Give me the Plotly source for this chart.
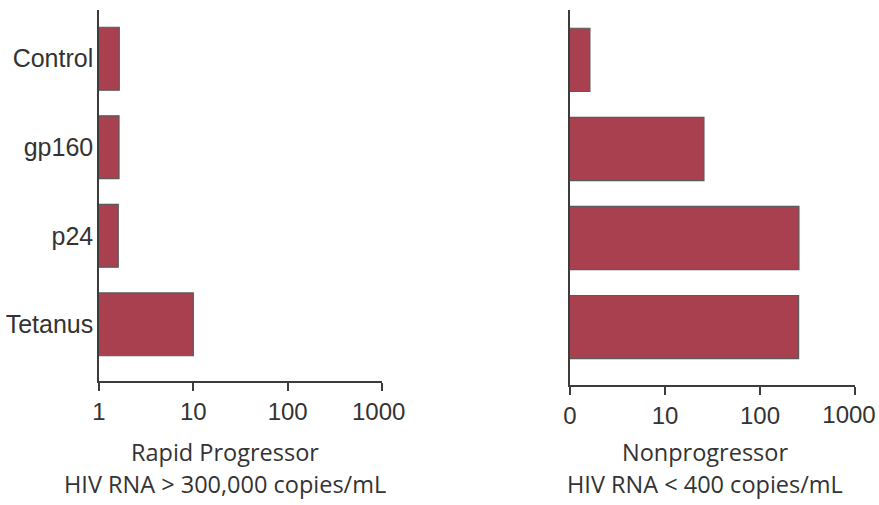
import plotly.graph_objects as go

# Antigens, top to bottom
antigens = ["Control", "gp160", "p24", "Tetanus"]

# Response values per group (log scale)
rapid_values = [1.64, 1.63, 1.6, 10.0]
nonprog_values = [1.62, 25.7, 257.0, 255.0]

# Axis ticks
tick_vals = [1, 10, 100, 1000]
rapid_tick_text = ["1", "10", "100", "1000\u00a0"]
nonprog_tick_text = ["0", "10", "100", ""]
nonprog_last_val = [1000]
nonprog_last_text = ["1000"]

# Group titles, one entry per line
rapid_title = ["Rapid Progressor", "HIV RNA > 300,000 copies/mL"]
nonprog_title = ["Nonprogressor", "HIV RNA < 400 copies/mL"]

W, H = 879, 505
BAR_FILL = "#a8404f"
BAR_EDGE = "#5a5a5a"
AXIS_COLOR = "#3c3c3c"
TEXT_COLOR = "#333333"
LABEL_FONT = "Liberation Sans, Arial, sans-serif"
TITLE_FONT = "Open Sans, Lato, sans-serif"

fig = go.Figure()

fig.add_trace(go.Bar(
    y=antigens, x=rapid_values, orientation="h",
    xaxis="x", yaxis="y", width=0.71,
    marker=dict(color=BAR_FILL, line=dict(color=BAR_EDGE, width=1.2)),
    showlegend=False,
))
fig.add_trace(go.Bar(
    y=antigens, x=nonprog_values, orientation="h",
    xaxis="x2", yaxis="y2", width=0.71,
    marker=dict(color=BAR_FILL, line=dict(color=BAR_EDGE, width=1.2)),
    showlegend=False,
))
# empty helper trace so the overlay axis carrying the last tick label renders
fig.add_trace(go.Scatter(
    x=nonprog_last_val, y=antigens[:1], xaxis="x3", yaxis="y2",
    mode="markers", marker=dict(opacity=0), hoverinfo="skip",
    showlegend=False,
))


def px_x(a, b):
    return [a / W, b / W]


def px_y(top, bottom):
    return [1 - bottom / H, 1 - top / H]


tick_font = dict(family=LABEL_FONT, size=24, color=TEXT_COLOR)
common_x = dict(
    type="log", range=[0, 3], tickvals=tick_vals,
    showline=True, linecolor=AXIS_COLOR, linewidth=1.5,
    ticks="outside", ticklen=8, tickwidth=1.5, tickcolor=AXIS_COLOR,
    showgrid=False, zeroline=False, automargin=False,
    tickfont=tick_font, fixedrange=True,
)
common_y = dict(
    type="category", showline=True, linecolor=AXIS_COLOR, linewidth=1.5,
    ticks="", showgrid=False, zeroline=False, automargin=False,
    fixedrange=True,
)

fig.update_layout(
    width=W, height=H,
    margin=dict(l=0, r=0, t=0, b=0),
    paper_bgcolor="white", plot_bgcolor="white",
    bargap=0.29,
    xaxis=dict(common_x, domain=px_x(99, 382), anchor="y",
               ticktext=rapid_tick_text, ticklabeloverflow="allow"),
    yaxis=dict(common_y, domain=px_y(10, 381), anchor="x",
               range=[3.64, -0.55],
               tickfont=dict(family=LABEL_FONT, size=25, color=TEXT_COLOR),
               ticklabelstandoff=-1),
    xaxis2=dict(common_x, domain=px_x(570, 855), anchor="y2",
                ticktext=nonprog_tick_text),
    # label for the last right-hand tick, pulled in from the page edge
    xaxis3=dict(type="log", range=[0, 3], overlaying="x2", anchor="y2",
                side="bottom", tickvals=nonprog_last_val,
                ticktext=nonprog_last_text, ticks="outside", ticklen=8,
                tickcolor="rgba(0,0,0,0)", ticklabelshift=-6,
                ticklabeloverflow="allow", showline=False, showgrid=False,
                zeroline=False, automargin=False, tickfont=tick_font,
                fixedrange=True),
    yaxis2=dict(common_y, domain=px_y(10, 385), anchor="x2",
                range=[3.65, -0.56], showticklabels=False),
)

# Titles below each panel, centred a little left of the axis middle
for cx, lines in ((225, rapid_title), (705, nonprog_title)):
    for cy, line in zip((452, 484), lines):
        fig.add_annotation(
            text=line, xref="paper", x=cx / W, yref="paper", y=1 - cy / H,
            xanchor="center", yanchor="middle", showarrow=False,
            font=dict(family=TITLE_FONT, size=23.5, color=TEXT_COLOR),
        )

fig.write_html("out.html")
